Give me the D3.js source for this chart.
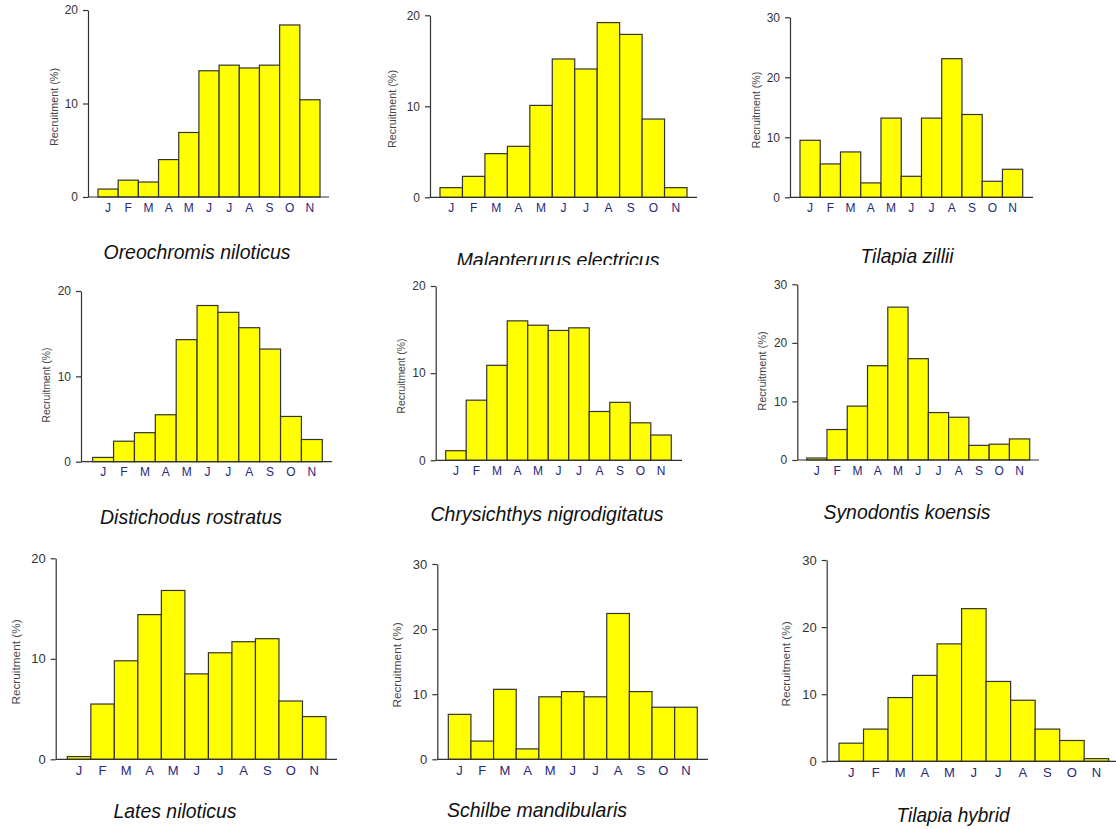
<!DOCTYPE html>
<html>
<head>
<meta charset="utf-8">
<script src="https://cdn.jsdelivr.net/npm/d3@7"></script>
<style>
  html, body { margin: 0; padding: 0; background: #fff; }
  svg { display: block; font-family: "Liberation Sans", Arial, sans-serif; }
</style>
</head>
<body>
<svg id="chart" width="1116" height="829"></svg>
<script>
// ---------- DATA ----------
const months = ["J", "F", "M", "A", "M", "J", "J", "A", "S", "O", "N"];
const monthKeys = months.map((m, i) => i);

const species = [
  "Oreochromis niloticus", "Malapterurus electricus", "Tilapia zillii",
  "Distichodus rostratus", "Chrysichthys nigrodigitatus", "Synodontis koensis",
  "Lates niloticus", "Schilbe mandibularis", "Tilapia hybrid"
];

const oreochromis   = [0.85, 1.8, 1.6, 4.0, 6.9, 13.5, 14.1, 13.8, 14.1, 18.4, 10.4];
const malapterurus  = [1.06, 2.3, 4.8, 5.6, 10.1, 15.2, 14.1, 19.2, 17.9, 8.6, 1.06];
const tilapiaZillii = [9.5, 5.56, 7.56, 2.4, 13.2, 3.5, 13.2, 23.1, 13.8, 2.67, 4.67];
const distichodus   = [0.5, 2.4, 3.4, 5.5, 14.3, 18.3, 17.5, 15.7, 13.2, 5.3, 2.6];
const chrysichthys  = [1.1, 6.9, 10.9, 16.0, 15.5, 14.9, 15.2, 5.6, 6.65, 4.3, 2.9];
const synodontis    = [0.34, 5.2, 9.2, 16.1, 26.1, 17.3, 8.1, 7.3, 2.5, 2.7, 3.6];
const lates         = [0.27, 5.5, 9.8, 14.4, 16.8, 8.5, 10.6, 11.7, 12.0, 5.8, 4.25];
const schilbe       = [6.9, 2.8, 10.75, 1.6, 9.6, 10.4, 9.6, 22.4, 10.4, 8.0, 8.0];
const tilapiaHybrid = [2.7, 4.8, 9.5, 12.8, 17.5, 22.75, 11.9, 9.1, 4.8, 3.1, 0.4];

const seriesValues = [oreochromis, malapterurus, tilapiaZillii, distichodus,
  chrysichthys, synodontis, lates, schilbe, tilapiaHybrid];

const yMaxes = [20, 20, 30, 20, 20, 30, 20, 30, 30];
const ticks20 = [0, 10, 20];
const ticks30 = [0, 10, 20, 30];
const yLabelText = "Recruitment (%)";

// ---------- LAYOUT (positions / sizes only) ----------
const layout = [
  { ax: 88,    y0: 197,   yTop: 10,    bL: 98,    bR: 320,    xEnd: 329,  tx: 197, ty: 259, tw: 187, lx: 55,  ly: 107, lf: 10.8, tf: 12, mf: 12,  clip: false },
  { ax: 430,   y0: 197.3, yTop: 15.3,  bL: 440,   bR: 687,    xEnd: 697,  tx: 558, ty: 267, tw: 203, lx: 393, ly: 109, lf: 10.8, tf: 12, mf: 12,  clip: true },
  { ax: 790,   y0: 197.3, yTop: 17.3,  bL: 800,   bR: 1022.7, xEnd: 1033, tx: 907, ty: 263, tw: 93,  lx: 757, ly: 110, lf: 10.6, tf: 12, mf: 12,  clip: true },
  { ax: 81,    y0: 461.7, yTop: 291,   bL: 92.7,  bR: 322.3,  xEnd: 332,  tx: 191, ty: 524, tw: 182, lx: 47,  ly: 385, lf: 10.4, tf: 12, mf: 12,  clip: false },
  { ax: 435.7, y0: 460.3, yTop: 286,   bL: 445.7, bR: 671.3,  xEnd: 682,  tx: 547, ty: 521, tw: 233, lx: 402, ly: 376, lf: 10.4, tf: 12, mf: 12,  clip: false },
  { ax: 797.3, y0: 460,   yTop: 284.3, bL: 806.7, bR: 1029.7, xEnd: 1039, tx: 907, ty: 519, tw: 167, lx: 763, ly: 371, lf: 11,   tf: 12, mf: 12,  clip: false },
  { ax: 55.7,  y0: 759.3, yTop: 558.3, bL: 67.3,  bR: 326,    xEnd: 337,  tx: 175, ty: 818, tw: 123, lx: 17,  ly: 662, lf: 11.8, tf: 13, mf: 13, clip: false },
  { ax: 437.3, y0: 759.3, yTop: 564,   bL: 448.3, bR: 697.3,  xEnd: 708,  tx: 537, ty: 817, tw: 180, lx: 398, ly: 665, lf: 11.8, tf: 13, mf: 13, clip: false },
  { ax: 826.7, y0: 761.3, yTop: 560,   bL: 839,   bR: 1108.7, xEnd: 1116, tx: 953, ty: 822, tw: 113, lx: 787, ly: 664, lf: 11.8, tf: 13, mf: 13, clip: false }
];

const svg = d3.select("#chart");
svg.append("defs").append("clipPath").attr("id", "topRowClip")
  .append("rect").attr("x", 0).attr("y", 0).attr("width", 1116).attr("height", 265);

const axisColor = "#333";

species.forEach((name, i) => {
  const L = layout[i];
  const vals = seriesValues[i];
  const yMax = yMaxes[i];
  const g = svg.append("g");

  const x = d3.scaleBand().domain(monthKeys).range([L.bL, L.bR]).padding(0);
  const y = d3.scaleLinear().domain([0, yMax]).range([L.y0, L.yTop]);

  // bars
  g.selectAll("rect.bar").data(vals).enter().append("rect")
    .attr("class", "bar")
    .attr("x", (d, j) => x(j))
    .attr("y", d => y(d))
    .attr("width", x.bandwidth())
    .attr("height", d => y(0) - y(d))
    .attr("fill", "#ffff00")
    .attr("stroke", "#333")
    .attr("stroke-width", 1.2);

  // y axis
  const yAxis = d3.axisLeft(y).tickValues(yMax === 30 ? ticks30 : ticks20)
    .tickSize(5).tickSizeOuter(0).tickPadding(5).tickFormat(d3.format("d"));
  const ya = g.append("g").attr("transform", `translate(${L.ax},0)`).call(yAxis);
  ya.attr("font-size", null).attr("font-family", null);
  ya.select(".domain").attr("stroke", axisColor).attr("stroke-width", 1.2);
  ya.selectAll(".tick line").attr("stroke", axisColor).attr("stroke-width", 1.2);
  ya.selectAll(".tick text").attr("fill", "#333").style("font-size", L.tf + "px");

  // x axis line
  g.append("line").attr("x1", L.ax).attr("x2", L.xEnd)
    .attr("y1", L.y0).attr("y2", L.y0)
    .attr("stroke", axisColor).attr("stroke-width", 1.2);

  // month labels
  const xAxis = d3.axisBottom(x).tickSize(0).tickPadding(6).tickFormat(j => months[j]);
  const xa = g.append("g").attr("transform", `translate(0,${L.y0})`).call(xAxis);
  xa.attr("font-size", null).attr("font-family", null);
  xa.select(".domain").remove();
  xa.selectAll(".tick text").attr("fill", "#27277a").style("font-size", L.mf + "px");

  // y label
  g.append("text")
    .attr("transform", `translate(${L.lx},${L.ly}) rotate(-90)`)
    .attr("text-anchor", "middle")
    .attr("dominant-baseline", "middle")
    .attr("fill", "#444")
    .style("font-size", L.lf + "px")
    .text(yLabelText);

  // title
  const t = g.append("text")
    .attr("x", L.tx - L.tw / 2)
    .attr("y", L.ty)
    .attr("textLength", L.tw)
    .attr("lengthAdjust", "spacingAndGlyphs")
    .attr("fill", "#111")
    .style("font-size", "21px")
    .style("font-style", "italic")
    .text(name);
  if (L.clip) t.attr("clip-path", "url(#topRowClip)");
});
</script>
</body>
</html>
